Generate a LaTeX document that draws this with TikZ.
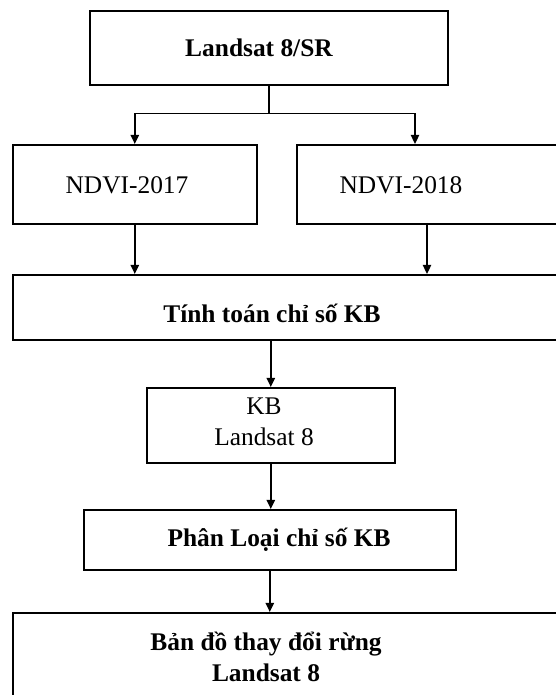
\documentclass[tikz,border=0pt]{standalone}
\usepackage{fontspec}
\setmainfont{Liberation Serif}
\usetikzlibrary{arrows.meta}

\begin{document}
\begin{tikzpicture}[x=0.5pt, y=-0.5pt, font=\fontsize{12.7}{15.5}\selectfont,
  box/.style={draw, line width=0.8pt, anchor=north west, inner sep=0pt},
  txt/.style={inner sep=0pt, align=center},
  flow/.style={-{Triangle[length=4.6pt,width=4.2pt]}, line width=0.8pt}]
  \useasboundingbox (0,0) rectangle (556,695);
  \clip (0,0) rectangle (556,695);
  % boxes
  \node[box, minimum width=179pt, minimum height=37pt] (top) at (89,10) {};
  \node[box, minimum width=122pt, minimum height=39.5pt] (n17) at (12,144) {};
  \node[box, minimum width=150pt, minimum height=39.5pt] (n18) at (296,144) {};
  \node[box, minimum width=300pt, minimum height=32.5pt] (calc) at (12,274) {};
  \node[box, minimum width=124pt, minimum height=37.5pt] (kb) at (146,387) {};
  \node[box, minimum width=186pt, minimum height=30pt] (cls) at (83,509) {};
  \node[box, minimum width=300pt, minimum height=60pt] (map) at (12,612) {};
  % labels
  \node[txt, font=\fontsize{12.7}{15.5}\selectfont\bfseries] (topT) at (259,48) {Landsat 8/SR};
  \node[txt] (n17T) at (127,185) {NDVI-2017};
  \node[txt] (n18T) at (401,185) {NDVI-2018};
  \node[txt, font=\fontsize{12.7}{15.5}\selectfont\bfseries] (calcT) at (272,313) {Tính toán chỉ số KB};
  \node[txt] (kbT) at (264,422) {KB\\Landsat 8};
  \node[txt, font=\fontsize{12.7}{15.5}\selectfont\bfseries] (clsT) at (279,540) {Phân Loại chỉ số KB};
  \node[txt, font=\fontsize{12.7}{15.5}\selectfont\bfseries] (mapT) at (266,657) {Bản đồ thay đổi rừng\\Landsat 8};
  % arrows
  \path (top.south) ++(0,28) coordinate (split);
  \coordinate (in18) at (415,144);
  \coordinate (out18) at (427,223);
  \draw[line width=0.8pt] (top.south) -- (split);
  \draw[flow] (split) -| (n17.north);
  \draw[flow] (split) -| (in18);
  \draw[flow] (n17.south) -- (n17.south |- calc.north);
  \draw[flow] (out18) -- (out18 |- calc.north);
  \draw[flow] (calc.south -| kb.north) -- (kb.north);
  \draw[flow] (kb.south) -- (kb.south |- cls.north);
  \draw[flow] (cls.south) -- (cls.south |- map.north);
\end{tikzpicture}
\end{document}
